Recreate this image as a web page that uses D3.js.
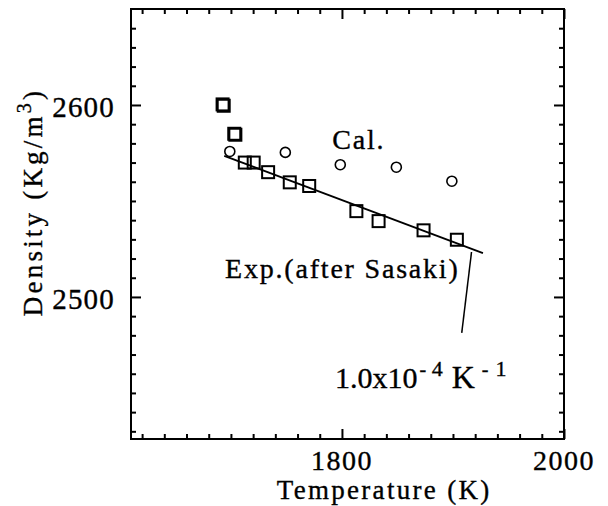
<!DOCTYPE html>
<html>
<head>
<meta charset="utf-8">
<script src="https://cdn.jsdelivr.net/npm/d3@7"></script>
<style>
  body { margin: 0; background: #fff; }
  text { font-family: "Liberation Serif", "Times New Roman", serif; fill: #000; stroke: #000; stroke-width: 0.35px; }
</style>
</head>
<body>
<svg id="chart" width="608" height="506"></svg>
<script>
// Mesures (d'après Sasaki) : carrés
const expTemp = [1692.5, 1693.5, 1703, 1704, 1712.5, 1720.5, 1733.5, 1753, 1770.5, 1813, 1833, 1873.5, 1903.5];
const expDensity = [2600.3, 2599.6, 2585, 2584.5, 2570, 2570, 2565, 2559.7, 2557.8, 2544.7, 2539.5, 2534.7, 2529.8];

// Calcul : cercles
const calTemp = [1699, 1749, 1798.5, 1849, 1899];
const calDensity = [2575.8, 2575.3, 2568.9, 2567.6, 2560.3];

// Droite d'ajustement et trait de renvoi
const fitTemp = [1694, 1927];
const fitDensity = [2573.5, 2522.8];
const leaderTemp = [1916.7, 1907.9];
const leaderDensity = [2523.4, 2481.3];

// Graduations
const xTickLabels = [1800, 2000];
const yTickLabels = [2500, 2600];
const xDomain = [1610, 2000];
const yDomain = [2426, 2650];

function createChart() {
    const margin = { top: 9, right: 44, bottom: 67, left: 131 };
    const width = 608 - margin.left - margin.right;   // 433
    const height = 506 - margin.top - margin.bottom;  // 430

    const svg = d3.select("#chart")
        .append("g")
        .attr("transform", `translate(${margin.left},${margin.top})`);

    const x = d3.scaleLinear().domain(xDomain).range([0, width]);
    const y = d3.scaleLinear().domain(yDomain).range([height, 0]);

    const xMinor = d3.range(1620, 2000, 20).filter(v => !xTickLabels.includes(v));
    const yMinor = d3.range(2430, 2650, 10).filter(v => !yTickLabels.includes(v));

    // Graduations vers l'intérieur sur les quatre côtés
    function tickAxis(axis, values, size, transform) {
        const g = svg.append("g")
            .attr("transform", transform)
            .call(axis.tickValues(values).tickSize(size).tickFormat(""));
        g.select(".domain").remove();
        g.selectAll("line").attr("stroke", "#000").attr("stroke-width", 2);
        return g;
    }

    tickAxis(d3.axisBottom(x), xMinor, -5, `translate(0,${height})`);
    tickAxis(d3.axisTop(x), xMinor, -5, "translate(0,0)");
    tickAxis(d3.axisLeft(y), yMinor, -5, "translate(0,0)");
    tickAxis(d3.axisRight(y), yMinor, -5, `translate(${width},0)`);

    tickAxis(d3.axisBottom(x), xTickLabels, -10, `translate(0,${height})`);
    tickAxis(d3.axisTop(x), xTickLabels, -10, "translate(0,0)");
    tickAxis(d3.axisLeft(y), yTickLabels, -10, "translate(0,0)");
    tickAxis(d3.axisRight(y), yTickLabels, -10, `translate(${width},0)`);

    // Libellés des graduations
    svg.selectAll(".xlab")
        .data(xTickLabels)
        .enter()
        .append("text")
        .attr("class", "xlab")
        .attr("x", d => x(d))
        .attr("y", height + 31)
        .attr("text-anchor", "middle")
        .style("font-size", "28px")
        .style("letter-spacing", "1.5px")
        .text(d => d);

    svg.selectAll(".ylab")
        .data(yTickLabels)
        .enter()
        .append("text")
        .attr("class", "ylab")
        .attr("x", -16)
        .attr("y", d => y(d) + 12)
        .attr("text-anchor", "end")
        .style("font-size", "29px")
        .style("letter-spacing", "1.2px")
        .text(d => d);

    // Cadre
    svg.append("rect")
        .attr("width", width)
        .attr("height", height)
        .attr("fill", "none")
        .attr("stroke", "#000")
        .attr("stroke-width", 2);

    // Titres des axes
    svg.append("text")
        .attr("x", x(1838))
        .attr("y", height + 60)
        .attr("text-anchor", "middle")
        .style("font-size", "27px")
        .style("letter-spacing", "2.3px")
        .text("Temperature (K)");

    const yTitle = svg.append("text")
        .attr("transform", `translate(${42 - margin.left},${y(2490)}) rotate(-90)`)
        .attr("text-anchor", "start")
        .style("font-size", "27px")
        .style("letter-spacing", "3.2px");
    yTitle.append("tspan").text("Density (Kg/m");
    yTitle.append("tspan").attr("dy", -11).style("font-size", "20px").text("3");
    yTitle.append("tspan").attr("dy", 11).text(")");

    // Droite d'ajustement
    const line = d3.line()
        .x(d => x(d[0]))
        .y(d => y(d[1]));

    svg.append("path")
        .attr("d", line(d3.zip(fitTemp, fitDensity)))
        .attr("fill", "none")
        .attr("stroke", "#000")
        .attr("stroke-width", 1.8);

    svg.append("path")
        .attr("d", line(d3.zip(leaderTemp, leaderDensity)))
        .attr("fill", "none")
        .attr("stroke", "#000")
        .attr("stroke-width", 1.5);

    // Carrés (expérience)
    const sq = 12;
    svg.selectAll(".exp")
        .data(d3.zip(expTemp, expDensity))
        .enter()
        .append("rect")
        .attr("class", "exp")
        .attr("x", d => x(d[0]) - sq / 2)
        .attr("y", d => y(d[1]) - sq / 2)
        .attr("width", sq)
        .attr("height", sq)
        .attr("fill", "none")
        .attr("stroke", "#000")
        .attr("stroke-width", 2);

    // Cercles (calcul)
    svg.selectAll(".cal")
        .data(d3.zip(calTemp, calDensity))
        .enter()
        .append("circle")
        .attr("class", "cal")
        .attr("cx", d => x(d[0]))
        .attr("cy", d => y(d[1]))
        .attr("r", 5)
        .attr("fill", "none")
        .attr("stroke", "#000")
        .attr("stroke-width", 1.6);

    // Annotations
    svg.append("text")
        .attr("x", x(1791.3))
        .attr("y", y(2577.3))
        .style("font-size", "28px")
        .style("letter-spacing", "1.8px")
        .text("Cal.");

    svg.append("text")
        .attr("x", x(1694.7))
        .attr("y", y(2510))
        .style("font-size", "28px")
        .style("letter-spacing", "1.8px")
        .text("Exp.(after Sasaki)");

    const note = svg.append("text")
        .attr("x", x(1793.7))
        .attr("y", y(2452.5))
        .style("font-size", "30px");
    note.append("tspan").text("1.0x10");
    note.append("tspan").attr("dy", -12).attr("dx", 2).style("font-size", "20px").text("-");
    note.append("tspan").attr("dx", 5.5).style("font-size", "22px").text("4");
    note.append("tspan").attr("dy", 12).attr("dx", 9).style("font-size", "32px").text("K");
    note.append("tspan").attr("dy", -12).attr("dx", 7).style("font-size", "20px").text("-");
    note.append("tspan").attr("dx", 7).style("font-size", "22px").text("1");
}

createChart();
</script>
</body>
</html>
